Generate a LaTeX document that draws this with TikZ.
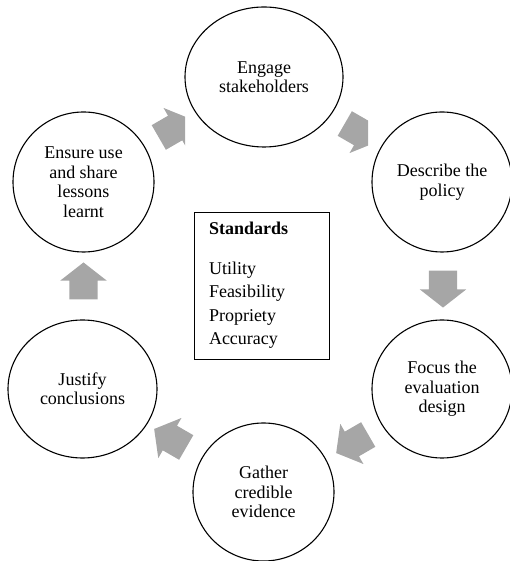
\documentclass[tikz,border=0pt]{standalone}
\usepackage{fontspec}
\setmainfont{Liberation Serif}
\usetikzlibrary{shapes.geometric,shapes.arrows}
\definecolor{arrowgray}{RGB}{166,166,166}

\begin{document}
\begin{tikzpicture}[x=1pt,y=1pt]
\tikzstyle{stage} = [ellipse, draw=black, line width=1.1pt, align=center, inner sep=0pt, font=\fontsize{18}{19.5}\selectfont]
\tikzstyle{standards} = [rectangle, draw=black, line width=0.8pt, align=left, text width=105pt, inner xsep=15pt, minimum height=147pt, font=\fontsize{18}{23.6}\selectfont]
\tikzstyle{cyclearrow} = [single arrow, fill=arrowgray, draw=none, inner xsep=0pt, inner ysep=14pt, minimum height=37pt, single arrow head extend=9pt, single arrow tip angle=104]

\useasboundingbox (0,0) rectangle (509,561);

\node(engage) [stage, minimum width=158pt, minimum height=140pt] at (264,484) {Engage\\stakeholders};
\node(describe) [stage, minimum width=140pt, minimum height=140pt] at (442,379) {Describe the\\policy};
\node(focus) [stage, minimum width=140pt, minimum height=138pt] at (442,172) {Focus the\\evaluation\\design};
\node(gather) [stage, minimum width=141pt, minimum height=138pt] at (263.5,69) {Gather\\credible\\evidence};
\node(justify) [stage, minimum width=149pt, minimum height=138pt] at (82.5,172) {Justify\\conclusions};
\node(ensure) [stage, minimum width=141pt, minimum height=140pt] at (83.5,379) {Ensure use\\and share\\lessons\\learnt};

\node(standardsBox) [standards] at (261.5,275.5) {\textbf{Standards}\\[16pt]Utility\\Feasibility\\Propriety\\Accuracy};

% block arrows between the stages (the two upper ones are cut off on the right)
\begin{scope}
\clip (0,0) rectangle (368,561);
\node(arrow1) [cyclearrow, rotate=-30] at (356,431) {};
\end{scope}
\node(arrow2) [cyclearrow, rotate=-90] at (443,277.5) {};
\node(arrow3) [cyclearrow, rotate=210] at (357,120) {};
\node(arrow4) [cyclearrow, rotate=150] at (175,120) {};
\node(arrow5) [cyclearrow, rotate=90] at (83.5,274.5) {};
\begin{scope}
\clip (0,0) rectangle (185,561);
\node(arrow6) [cyclearrow, rotate=30] at (170,430) {};
\end{scope}
\end{tikzpicture}
\end{document}
